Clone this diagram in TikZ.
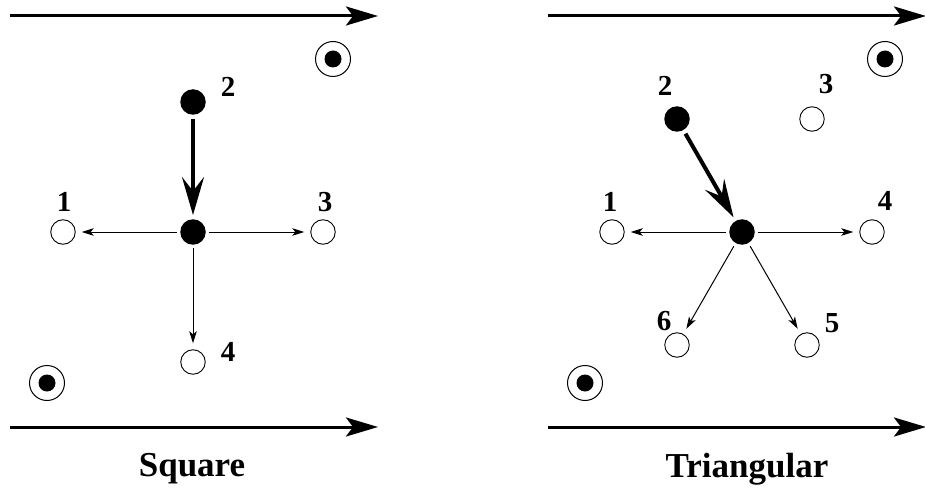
\documentclass[tikz,border=0pt]{standalone}
\usepackage{fontspec}
\setmainfont{Liberation Serif}
\usetikzlibrary{arrows.meta}
\begin{document}
\begin{tikzpicture}[x=1pt,y=-1pt,
  site/.style={circle,draw,line width=0.9pt,minimum size=24.5pt,inner sep=0pt},
  atom/.style={circle,fill=black,minimum size=25.5pt,inner sep=0pt},
  target/.style={circle,draw,line width=1pt,minimum size=35pt,inner sep=0pt},
  num/.style={font=\fontsize{29}{32}\selectfont\bfseries,inner sep=0pt},
  title/.style={font=\fontsize{35}{40}\selectfont\bfseries,inner sep=0pt},
  flow/.style={line width=3pt,-{Stealth[length=32pt,width=19pt,inset=7pt]}},
  jump/.style={line width=4pt,-{Stealth[length=38pt,width=22pt,inset=14pt]},shorten <=4pt,shorten >=4pt},
  hop/.style={line width=1pt,-{Stealth[length=12pt,width=7.5pt,inset=3pt]},shorten <=3.5pt,shorten >=6pt}]
\useasboundingbox (0,0) rectangle (925,494);
% ---------- Square panel ----------
\coordinate (sta) at (10,16);
\coordinate (stb) at (378,16);
\coordinate (sba) at (10,427);
\coordinate (sbb) at (378,427);
\draw[flow] (sta) -- (stb);
\draw[flow] (sba) -- (sbb);
\node[target] (st1) at (333,59) {};
\fill (st1.center) circle (8.5);
\node[target] (st2) at (47,383) {};
\fill (st2.center) circle (8.5);
\node[atom] (s0) at (193,232) {};
\node[atom] (s2) at (193,102) {};
\node[site] (s1) at (63,232) {};
\node[site] (s3) at (323,232) {};
\node[site] (s4) at (193,362) {};
\node[num] (ls2) at (228,87) {2};
\node[num] (ls1) at (64,202) {1};
\node[num] (ls3) at (325,202) {3};
\node[num] (ls4) at (228,352) {4};
\draw[jump] (s2) -- (s0);
\draw[hop] (s0) -- (s1);
\draw[hop] (s0) -- (s3);
\draw[hop] (s0) -- (s4);
\node[title] (tsq) at (192,469) {Square};
% ---------- Triangular panel ----------
\coordinate (tta) at (548,16);
\coordinate (ttb) at (926,16);
\coordinate (tba) at (548,427);
\coordinate (tbb) at (926,427);
\draw[flow] (tta) -- (ttb);
\draw[flow] (tba) -- (tbb);
\node[target] (tt1) at (885,59) {};
\fill (tt1.center) circle (8.5);
\node[target] (tt2) at (585,383) {};
\fill (tt2.center) circle (8.5);
\node[atom] (t0) at (742,232) {};
\node[atom] (t2) at (677,119) {};
\node[site] (t1) at (612,232) {};
\node[site] (t3) at (812,119) {};
\node[site] (t4) at (872,232) {};
\node[site] (t5) at (807,345) {};
\node[site] (t6) at (677,345) {};
\node[num] (lt2) at (665,86) {2};
\node[num] (lt3) at (826,84) {3};
\node[num] (lt1) at (610,202) {1};
\node[num] (lt4) at (885,201) {4};
\node[num] (lt5) at (832,323) {5};
\node[num] (lt6) at (664,321) {6};
\draw[jump] (t2) -- (t0);
\draw[hop] (t0) -- (t1);
\draw[hop] (t0) -- (t4);
\draw[hop] (t0) -- (t5);
\draw[hop] (t0) -- (t6);
\node[title] (ttr) at (747,469) {Triangular};
\end{tikzpicture}
\end{document}
